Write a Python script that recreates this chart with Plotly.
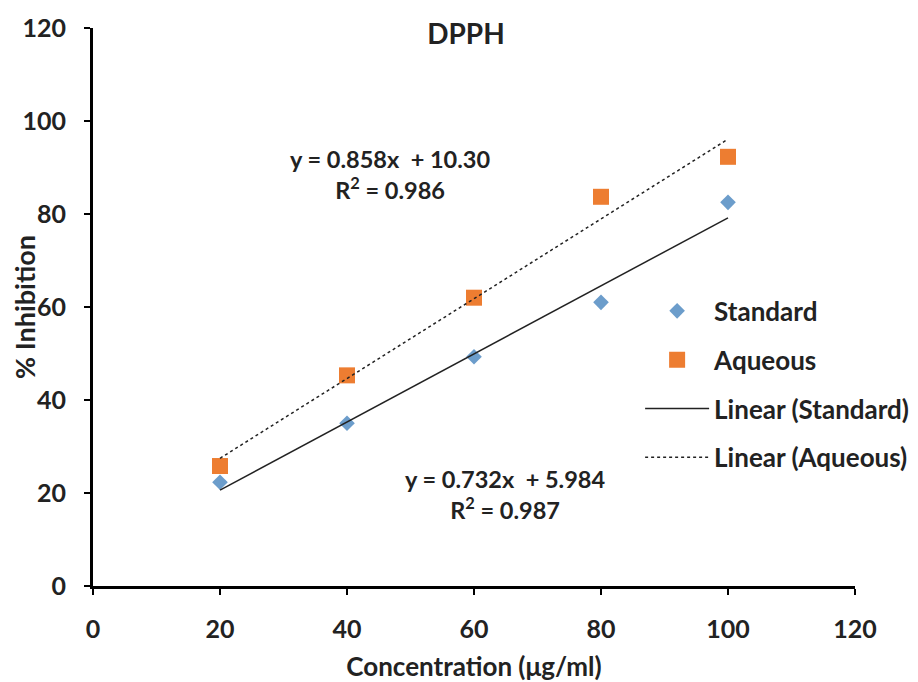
import plotly.graph_objects as go

# data
conc = [20, 40, 60, 80, 100]
standard = [22.3, 35.0, 49.3, 61.0, 82.5]
aqueous = [25.8, 45.3, 62.0, 83.7, 92.3]

# trend line coefficients as printed on the chart
std_slope, std_icpt, std_r2 = 0.732, 5.984, 0.987
aq_slope, aq_icpt, aq_r2 = 0.858, 10.30, 0.986

x_ticks = [0, 20, 40, 60, 80, 100, 120]
y_ticks = [0, 20, 40, 60, 80, 100, 120]

FONT = "Lato"
fit_x = [conc[0], conc[-1]]

fig = go.Figure()

fig.add_trace(go.Scatter(
    x=conc, y=standard, mode="markers", name="Standard", legendgroup="a",
    marker=dict(symbol="diamond", size=12, color="#6C9DCB"),
))
fig.add_trace(go.Scatter(
    x=conc, y=aqueous, mode="markers", name="Aqueous", legendgroup="b",
    marker=dict(symbol="square", size=16, color="#ED7D31"),
))
fig.add_trace(go.Scatter(
    x=fit_x, y=[std_slope * v + std_icpt for v in fit_x], mode="lines",
    name="Linear (Standard)", legendgroup="c",
    line=dict(color="#222222", width=1.5),
))
fig.add_trace(go.Scatter(
    x=fit_x, y=[aq_slope * v + aq_icpt for v in fit_x], mode="lines",
    name="Linear (Aqueous)", legendgroup="d",
    line=dict(color="#222222", width=1.5, dash="dot"),
))

eq_font = dict(family=FONT, size=23.5, color="#222222", weight="bold")
fig.add_annotation(
    x=46.8, y=88.6, xref="x", yref="y", showarrow=False, font=eq_font,
    text=f"y = {aq_slope}x  + {aq_icpt:.2f}<br>R<sup>2</sup> = {aq_r2}",
)
fig.add_annotation(
    x=64.9, y=19.6, xref="x", yref="y", showarrow=False, font=eq_font,
    text=f"y = {std_slope}x  + {std_icpt}<br>R<sup>2</sup> = {std_r2}",
)

axis_common = dict(
    showgrid=False, zeroline=False, showline=True, linecolor="black", linewidth=3,
    ticks="outside", ticklen=6, tickwidth=2, tickcolor="black", automargin=False,
    tickfont=dict(family=FONT, size=25, color="#222222", weight="bold"),
)

fig.update_xaxes(
    range=[0, 120], tickvals=x_ticks, ticklabelstandoff=13,
    title_text="Concentration (μg/ml)", title_standoff=26,
    title_font=dict(family=FONT, size=26, color="#222222", weight="bold"),
    **axis_common,
)
fig.update_yaxes(
    range=[0, 120], tickvals=y_ticks, ticklabelstandoff=13,
    title_text="% Inhibition", title_standoff=0,
    title_font=dict(family=FONT, size=27, color="#222222", weight="bold"),
    **axis_common,
)

# the page adds an 8px body margin, so the figure is 8px smaller than the window
fig.update_layout(
    width=910, height=674,
    paper_bgcolor="white", plot_bgcolor="white",
    margin=dict(l=85, r=63, t=20, b=96, autoexpand=False),
    title=dict(text="DPPH", x=(458 - 85) / 762, xref="paper", xanchor="center",
               y=1 - 26 / 674, yref="container", yanchor="middle",
               font=dict(family=FONT, size=28, color="#222222", weight="bold")),
    legend=dict(
        x=0.718, y=0.535, xanchor="left", yanchor="top",
        font=dict(family=FONT, size=26, color="#222222", weight="bold"),
        bgcolor="rgba(0,0,0,0)", traceorder="grouped", tracegroupgap=12,
        itemwidth=64,
    ),
)

fig.write_html("out.html")
